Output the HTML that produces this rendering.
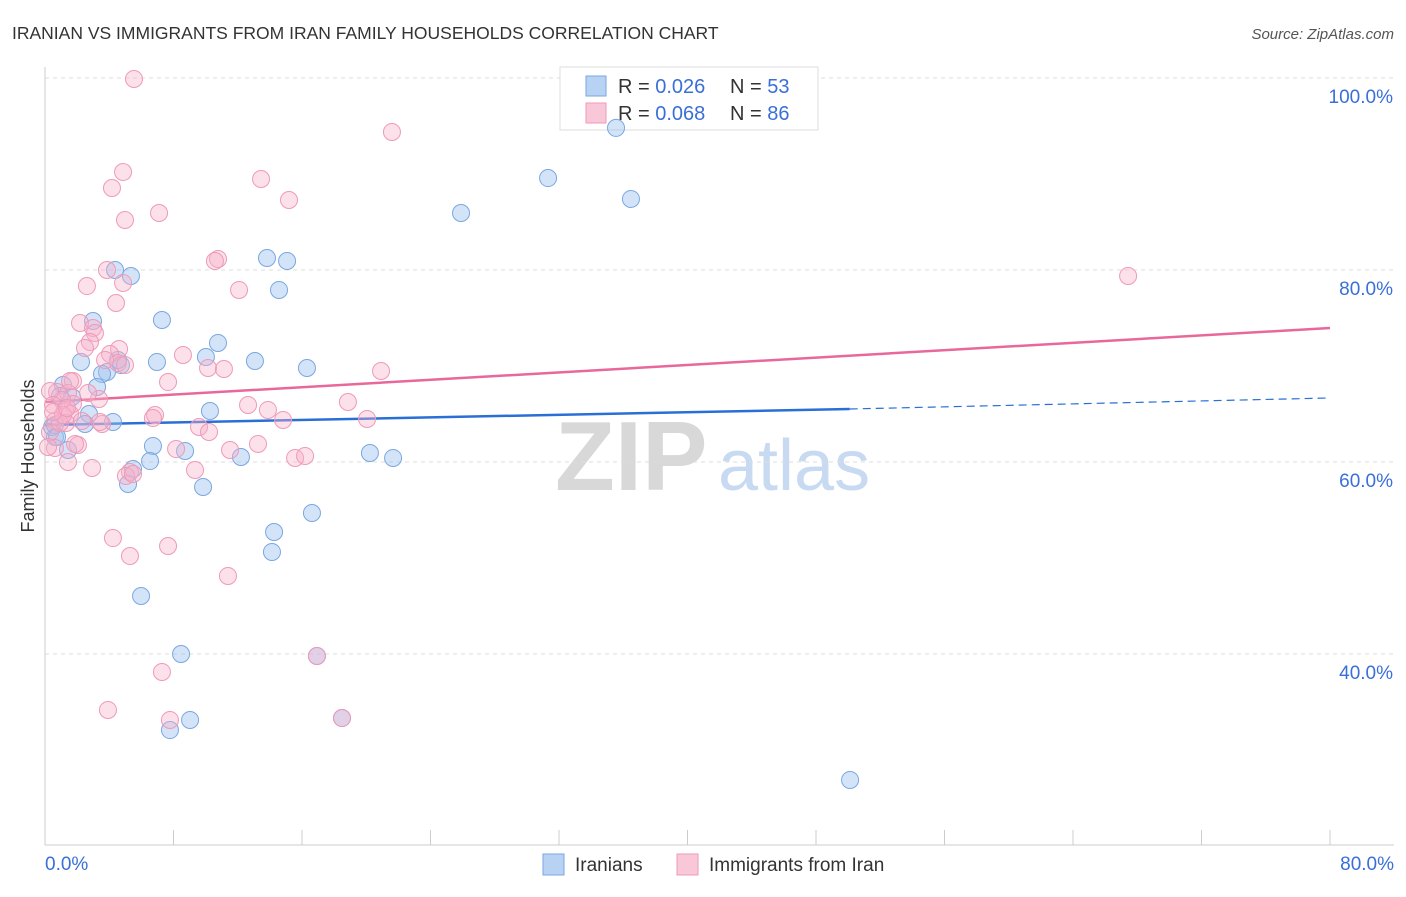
<!DOCTYPE html>
<html><head><meta charset="utf-8"><style>
body{margin:0;background:#fff;font-family:"Liberation Sans",sans-serif;}
svg text{font-family:"Liberation Sans",sans-serif;}
</style></head><body>
<svg id="chart" width="1406" height="892" xmlns="http://www.w3.org/2000/svg">
<text x="12" y="39" font-size="17.5" fill="#333">IRANIAN VS IMMIGRANTS FROM IRAN FAMILY HOUSEHOLDS CORRELATION CHART</text>
<text x="1394" y="39" font-size="15" fill="#555" font-style="italic" text-anchor="end">Source: ZipAtlas.com</text>
<text transform="translate(34,456) rotate(-90)" font-size="18" fill="#333" text-anchor="middle">Family Households</text>
<g>
<text x="555" y="490" font-size="98" fill="#d8d8d8" font-family="Liberation Serif,serif" font-weight="bold">ZIP</text>
<text x="718" y="490" font-size="72" fill="#c8daf2">atlas</text>
</g>
<g id="grid"></g><g id="axes"></g>
<g>
<rect x="560" y="67" width="258" height="63" fill="#fff" stroke="#ddd"/>
<rect x="586" y="76" width="20" height="20" fill="#b8d2f4" stroke="#7aa7e0"/>
<text x="618" y="93" font-size="20" fill="#333">R = <tspan fill="#3a6fd8">0.026</tspan></text>
<text x="730" y="93" font-size="20" fill="#333">N = <tspan fill="#3a6fd8">53</tspan></text>
<rect x="586" y="103" width="20" height="20" fill="#f9c8d8" stroke="#ee9ab8"/>
<text x="618" y="120" font-size="20" fill="#333">R = <tspan fill="#3a6fd8">0.068</tspan></text>
<text x="730" y="120" font-size="20" fill="#333">N = <tspan fill="#3a6fd8">86</tspan></text>
</g>
<g id="trend"></g><g id="pts"></g>
<g>
<rect x="543" y="854" width="21" height="21" fill="#b8d2f4" stroke="#7aa7e0"/>
<text x="575" y="871" font-size="19" fill="#333">Iranians</text>
<rect x="677" y="854" width="21" height="21" fill="#f9c8d8" stroke="#ee9ab8"/>
<text x="709" y="871" font-size="19" fill="#333">Immigrants from Iran</text>
</g>
</svg>
<script>
const yTicks=[40,60,80,100];
const yTickLabels=["40.0%","60.0%","80.0%","100.0%"];
const xEndLabels=["0.0%","80.0%"];
const blueX=[35.55,31.32,25.90,36.48,13.82,15.07,5.35,4.36,14.57,7.28,2.99,10.77,6.97,10.02,13.07,16.31,2.24,4.73,4.54,3.86,3.55,3.24,1.12,0.93,1.68,2.74,10.27,4.23,2.49,0.62,0.44,1.43,6.72,8.72,6.54,12.20,20.23,21.67,5.48,5.17,9.84,16.62,14.26,14.13,5.98,8.47,16.93,7.78,9.03,18.49,50.12,0.62,0.75];
const blueY=[94.8,89.58,85.94,87.40,81.25,80.94,79.38,80.0,77.92,74.79,74.69,72.40,70.42,70.94,70.52,69.79,70.42,70.10,70.63,69.38,69.17,67.81,68.02,66.88,66.77,65.0,65.31,64.17,63.96,62.60,63.65,61.25,61.67,61.15,60.10,60.52,60.94,60.42,59.27,57.71,57.40,54.69,52.71,50.63,46.04,40.0,39.79,32.08,33.13,33.33,26.88,63.85,62.60];
const pinkX=[5.54,21.60,4.86,4.17,13.45,15.19,7.10,4.98,10.77,10.58,3.86,4.86,2.61,12.08,67.43,4.42,2.18,2.99,3.11,2.80,2.49,4.61,4.05,8.59,4.54,4.98,10.15,11.14,20.92,7.66,1.74,0.75,1.43,1.56,3.36,2.68,1.74,1.06,0.31,0.50,18.86,1.25,1.56,12.64,13.88,6.85,6.72,14.82,20.05,0.62,1.31,3.55,9.59,10.21,0.31,2.05,8.16,13.26,11.52,15.57,16.19,1.87,0.62,1.43,2.93,9.34,5.29,5.04,5.48,4.23,7.66,5.29,11.39,7.28,3.92,7.78,16.93,18.49,0.19,0.93,2.30,3.42,1.12,0.50,1.37,3.74];
const pinkY=[99.9,94.38,90.21,88.54,89.48,87.29,85.94,85.21,81.15,80.94,80.0,78.65,78.33,77.92,79.38,76.56,74.48,73.96,73.44,72.50,71.88,71.77,71.25,71.15,70.31,70.10,69.79,69.69,69.48,68.33,68.44,67.29,67.19,68.44,66.56,67.19,66.04,66.46,67.40,65.94,66.25,65.42,65.0,65.94,65.42,64.90,64.58,64.38,64.48,64.27,64.06,63.96,63.65,63.13,63.13,61.77,61.35,61.88,61.25,60.42,60.63,61.88,61.46,60.0,59.38,59.17,58.96,58.54,58.75,52.08,51.25,50.21,48.13,38.13,34.17,33.13,39.79,33.33,61.56,64.06,64.27,64.17,64.90,65.21,65.63,70.63];
const blueTrend=[63.85,65.52,66.67];
const blueTrendX=[0,50.1,80];
const pinkTrend=[66.25,73.96];
const pinkTrendX=[0,80];

const NS="http://www.w3.org/2000/svg";
const X=v=>45+v*1285/80;
const Y=v=>78+(100-v)*9.6;
function mk(tag,attrs,parent){const e=document.createElementNS(NS,tag);for(const k in attrs)e.setAttribute(k,attrs[k]);document.getElementById(parent).appendChild(e);return e;}
yTicks.forEach((t,i)=>{
  const g=mk('line',{x1:45,x2:1394,y1:Y(t),y2:Y(t),stroke:'#ddd','stroke-dasharray':'4,4'},'grid');
  
  
  const l=mk('text',{x:1393,y:Y(t)+25,'font-size':19,fill:'#3a6fd8','text-anchor':'end'},'grid');
  l.textContent=yTickLabels[i];
  
  
});
const ax=mk('line',{x1:45,x2:1394,y1:845,y2:845,stroke:'#ccc'},'axes');


const ay=mk('line',{x1:45,x2:45,y1:67,y2:845,stroke:'#ccc'},'axes');


for(let i=0;i<=10;i++){
  const t=mk('line',{x1:X(i*8),x2:X(i*8),y1:830,y2:845,stroke:'#ccc'},'axes');
  
  
}
[[0,'start',45],[80,'end',1394]].forEach((d,i)=>{
  const l=mk('text',{x:d[2],y:870,'font-size':19,fill:'#3a6fd8','text-anchor':d[1]},'axes');
  l.textContent=xEndLabels[i];
  
  
});
function pts(xs,ys,fill,stroke,name){
  xs.forEach((x,i)=>{
    const c=mk('circle',{cx:X(x),cy:Y(ys[i]),r:8.5,fill:fill,stroke:stroke,'stroke-width':1},'pts');
    
    
  });
}
pts(blueX,blueY,'rgba(160,196,240,0.45)','#7aa7e0','iranians-point');
pts(pinkX,pinkY,'rgba(248,178,202,0.4)','#ee9ab8','immigrants-point');
const b1=mk('line',{x1:X(blueTrendX[0]),y1:Y(blueTrend[0]),x2:X(blueTrendX[1]),y2:Y(blueTrend[1]),stroke:'#2a6fd6','stroke-width':2.5},'trend');


const b2=mk('line',{x1:X(blueTrendX[1]),y1:Y(blueTrend[1]),x2:X(blueTrendX[2]),y2:Y(blueTrend[2]),stroke:'#2a6fd6','stroke-width':1.2,'stroke-dasharray':'8,5'},'trend');


const p1=mk('line',{x1:X(pinkTrendX[0]),y1:Y(pinkTrend[0]),x2:X(pinkTrendX[1]),y2:Y(pinkTrend[1]),stroke:'#e8689a','stroke-width':2.5},'trend');


</script>
</body></html>
